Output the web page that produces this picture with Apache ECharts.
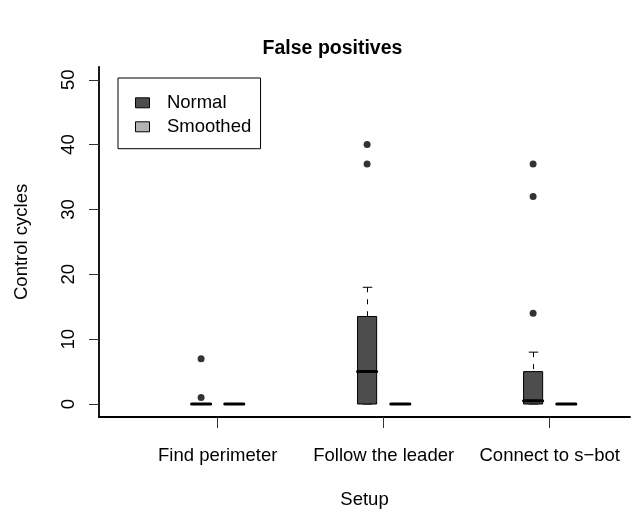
<!DOCTYPE html>
<html>
<head>
<meta charset="utf-8">
<script src="https://cdn.jsdelivr.net/npm/echarts@6/dist/echarts.min.js"></script>
<style>
  html, body { margin: 0; padding: 0; background: #fff; }
  #chart { width: 631px; height: 514px; }
</style>
</head>
<body>
<div id="chart"></div>
<script>
// Setups along the x axis
const categories = ['Find perimeter', 'Follow the leader', 'Connect to s\u2212bot'];

// Five-number summaries per setup: [lower whisker, Q1, median, Q3, upper whisker]
const normalStats = [
  [0, 0, 0, 0, 0],
  [0, 0, 5, 13.5, 18],
  [0, 0, 0.5, 5, 8]
];
const smoothedStats = [
  [0, 0, 0, 0, 0],
  [0, 0, 0, 0, 0],
  [0, 0, 0, 0, 0]
];

// Outlying observations per setup
const normalOutliers = [[7, 1], [40, 37], [37, 32, 14]];
const smoothedOutliers = [[], [], []];

// Y axis ticks
const yTicks = [0, 10, 20, 30, 40, 50];

const FONT = 'Liberation Sans, Arial, Helvetica, sans-serif';
const NORMAL_COLOR = '#4d4d4d';
const SMOOTHED_COLOR = '#b3b3b3';
const BOX_W = 0.115;         // box width in x-axis units
const PAIR_OFFSET = 0.1;     // shift of each box from the group centre

function statRows(stats) {
  return stats.map((s, i) => [i + 1].concat(s));
}

function outlierPoints(outliers, offset) {
  const pts = [];
  outliers.forEach((list, i) => list.forEach(v => pts.push([i + 1 + offset, v])));
  return pts;
}

// Box, dashed whiskers with staples, and a heavy median bar
function boxRenderer(offset) {
  return function (params, api) {
    const x = api.value(0) + offset;
    const lo = api.coord([x, api.value(1)]);
    const q1 = api.coord([x, api.value(2)]);
    const md = api.coord([x, api.value(3)]);
    const q3 = api.coord([x, api.value(4)]);
    const hi = api.coord([x, api.value(5)]);
    const half = api.size([BOX_W, 0])[0] / 2;
    const cap = half / 2;
    const cx = Math.round(hi[0]) + 0.5;
    const whisker = { stroke: '#000', lineWidth: 1, lineDash: [5, 7] };
    const solid = { stroke: '#000', lineWidth: 1 };
    return {
      type: 'group',
      children: [
        { type: 'line', shape: { x1: cx, y1: hi[1], x2: cx, y2: q3[1] }, style: whisker },
        { type: 'line', shape: { x1: cx, y1: lo[1], x2: cx, y2: q1[1] }, style: whisker },
        { type: 'line', shape: { x1: cx - cap, y1: hi[1], x2: cx + cap, y2: hi[1] }, style: solid },
        { type: 'line', shape: { x1: cx - cap, y1: lo[1], x2: cx + cap, y2: lo[1] }, style: solid },
        {
          type: 'rect',
          shape: { x: q3[0] - half, y: q3[1], width: half * 2, height: q1[1] - q3[1] },
          style: { fill: api.visual('color'), stroke: '#000', lineWidth: 1 }
        },
        {
          type: 'line',
          shape: { x1: md[0] - half, y1: md[1], x2: md[0] + half, y2: md[1] },
          style: { stroke: '#000', lineWidth: 3, lineCap: 'round' }
        }
      ]
    };
  };
}

const chart = echarts.init(document.getElementById('chart'), null, { renderer: 'canvas' });

chart.setOption({
  animation: false,
  backgroundColor: '#fff',
  textStyle: { fontFamily: FONT },
  title: {
    text: 'False positives',
    left: 327.5,
    top: 34,
    textAlign: 'center',
    textStyle: { fontFamily: FONT, fontSize: 19.5, fontWeight: 'bold', color: '#000' }
  },
  legend: {
    orient: 'vertical',
    left: 118,
    top: 78,
    padding: [15.3, 9.3, 12.4, 17],
    itemWidth: 14,
    itemHeight: 10,
    itemGap: 5,
    borderColor: '#000',
    borderWidth: 1,
    borderRadius: 0,
    icon: 'rect',
    textStyle: { fontFamily: FONT, fontSize: 18.5, color: '#000', lineHeight: 18, padding: [0, 0, 0, 12.4] },
    data: [
      { name: 'Normal', itemStyle: { color: NORMAL_COLOR, borderColor: '#000', borderWidth: 1 } },
      { name: 'Smoothed', itemStyle: { color: SMOOTHED_COLOR, borderColor: '#000', borderWidth: 1 } }
    ]
  },
  grid: { left: 99, top: 66.8, right: 1, bottom: 92, containLabel: false },
  xAxis: {
    type: 'value',
    min: 0.28494,
    max: 3.4837,
    name: 'Setup',
    nameLocation: 'middle',
    nameGap: 73,
    nameTextStyle: { fontFamily: FONT, fontSize: 18.5, color: '#000' },
    axisLine: { show: true, onZero: false, lineStyle: { color: '#000', width: 1.8 } },
    axisTick: { show: true, length: 11, customValues: [1, 2, 3], lineStyle: { color: '#333', width: 1 } },
    axisLabel: {
      customValues: [1, 2, 3],
      margin: 29,
      fontFamily: FONT,
      fontSize: 18.5,
      color: '#000',
      formatter: v => categories[Math.round(v) - 1] || ''
    },
    splitLine: { show: false }
  },
  yAxis: {
    type: 'value',
    min: -2,
    max: 52,
    name: 'Control cycles',
    nameLocation: 'middle',
    nameRotate: 90,
    nameGap: 68,
    nameTextStyle: { fontFamily: FONT, fontSize: 18.5, color: '#000' },
    axisLine: { show: true, onZero: false, lineStyle: { color: '#000', width: 1.8 } },
    axisTick: { show: true, length: 10, customValues: yTicks, lineStyle: { color: '#333', width: 1 } },
    axisLabel: {
      customValues: yTicks,
      rotate: 90,
      margin: 20.5,
      fontFamily: FONT,
      fontSize: 18.5,
      color: '#000'
    },
    splitLine: { show: false }
  },
  series: [
    {
      name: 'Normal',
      type: 'custom',
      itemStyle: { color: NORMAL_COLOR, borderColor: '#000', borderWidth: 1 },
      renderItem: boxRenderer(-PAIR_OFFSET),
      encode: { x: 0, y: [1, 2, 3, 4, 5] },
      data: statRows(normalStats),
      z: 2
    },
    {
      name: 'Smoothed',
      type: 'custom',
      itemStyle: { color: SMOOTHED_COLOR, borderColor: '#000', borderWidth: 1 },
      renderItem: boxRenderer(PAIR_OFFSET),
      encode: { x: 0, y: [1, 2, 3, 4, 5] },
      data: statRows(smoothedStats),
      z: 2
    },
    {
      name: 'Normal outliers',
      type: 'scatter',
      symbol: 'circle',
      symbolSize: 7,
      itemStyle: { color: '#000' },
      data: outlierPoints(normalOutliers, -PAIR_OFFSET),
      z: 3
    },
    {
      name: 'Smoothed outliers',
      type: 'scatter',
      symbol: 'circle',
      symbolSize: 7,
      itemStyle: { color: '#000' },
      data: outlierPoints(smoothedOutliers, PAIR_OFFSET),
      z: 3
    }
  ]
});
</script>
</body>
</html>
